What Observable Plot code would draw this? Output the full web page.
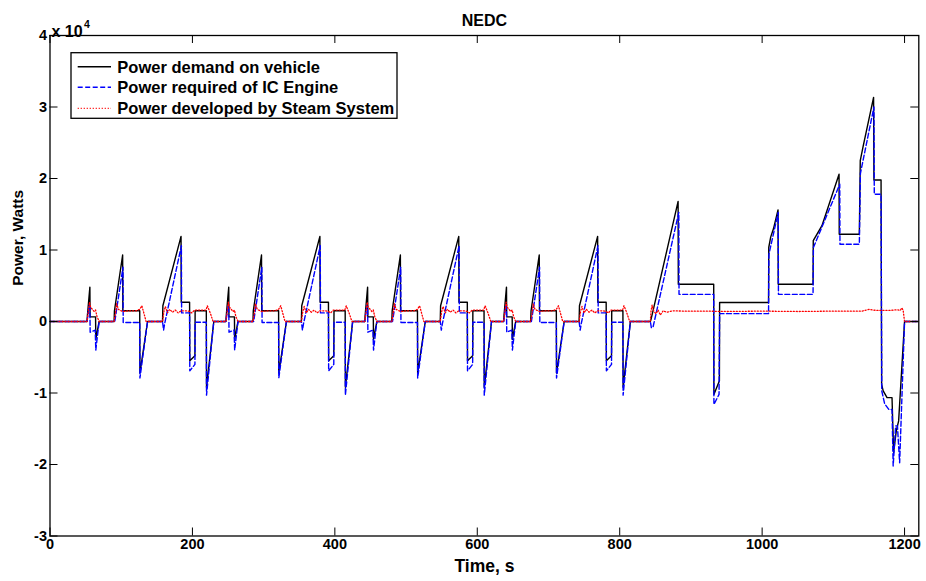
<!DOCTYPE html>
<html><head><meta charset="utf-8">
<script src="https://cdn.jsdelivr.net/npm/d3@7"></script>
<script src="https://cdn.jsdelivr.net/npm/@observablehq/plot@0.6"></script>
<style>
html,body{margin:0;padding:0;background:#fff;}
#wrap{position:relative;width:926px;height:581px;font-family:"Liberation Sans",Arial,Helvetica,sans-serif;}
#legend{position:absolute;left:0;top:0;pointer-events:none;}
</style></head><body><div id="wrap"></div>
<script>
// ---- data (time in s, power in W) ----
const title = "NEDC";
const xLabel = "Time, s";
const yLabel = "Power, Watts";
const xTicks = [0, 200, 400, 600, 800, 1000, 1200];
const yTicks = [-30000, -20000, -10000, 0, 10000, 20000, 30000, 40000];
const seriesNames = ["Power demand on vehicle", "Power required of IC Engine", "Power developed by Steam System"];

const demand = [
[0,0],[41,0],
[52,0],[52.5,800],[56,4800],[56.3,650],[64,650],[64.3,-2500],[69,0],[90,0],[90.5,1500],[102,9300],[102.3,1500],[126,1500],[126.3,-7200],[137,0],[158,0],[158.5,2200],[184,11900],[184.3,2700],[196,2700],[196.3,-5500],[203.5,-4800],[203.8,1500],[219.5,1500],[219.8,-9200],[230,0],
[247,0],[247.5,800],[251,4800],[251.3,650],[259,650],[259.3,-2500],[264,0],[285,0],[285.5,1500],[297,9300],[297.3,1500],[321,1500],[321.3,-7200],[332,0],[353,0],[353.5,2200],[379,11900],[379.3,2700],[391,2700],[391.3,-5500],[398.5,-4800],[398.8,1500],[414.5,1500],[414.8,-9200],[425,0],
[442,0],[442.5,800],[446,4800],[446.3,650],[454,650],[454.3,-2500],[459,0],[480,0],[480.5,1500],[492,9300],[492.3,1500],[516,1500],[516.3,-7200],[527,0],[548,0],[548.5,2200],[574,11900],[574.3,2700],[586,2700],[586.3,-5500],[593.5,-4800],[593.8,1500],[609.5,1500],[609.8,-9200],[620,0],
[637,0],[637.5,800],[641,4800],[641.3,650],[649,650],[649.3,-2500],[654,0],[675,0],[675.5,1500],[687,9300],[687.3,1500],[711,1500],[711.3,-7200],[722,0],[743,0],[743.5,2200],[769,11900],[769.3,2700],[781,2700],[781.3,-5500],[788.5,-4800],[788.8,1500],[804.5,1500],[804.8,-9200],[815,0],
[843,0],[844,300],[848,2000],[882,16800],[882.3,5200],[932,5200],[932.3,-10200],[940,-8300],[940.3,2650],[1009,2650],[1009.3,10350],[1012,11800],[1016,13000],[1022.3,15600],[1022.6,5200],[1071.5,5200],[1071.8,11300],[1084,13400],[1108,20600],[1108.3,12200],[1136.5,12200],[1137.8,22500],[1141.6,24400],[1156.5,31350],[1157,19800],[1167,19800],[1167.8,-8800],[1170,-9700],[1175.4,-10650],[1182.4,-10650],[1184.6,-18300],[1188.4,-15300],[1191.7,-13900],[1200,0],[1220,0]
];

const engine = [
[0,0],[41,0],
[52,0],[55,2200],[56,2000],[56.4,-1500],[63.5,-1200],[64.3,-4000],[69,0],[90,0],[91,0],[102.5,7600],[102.8,-150],[126,-150],[126.3,-7900],[137,0],[158,0],[159.5,-1200],[161,-300],[184.5,10600],[184.8,1200],[196,1200],[196.3,-6900],[203.5,-6000],[203.8,-100],[219.5,-100],[219.8,-10300],[230,0],
[247,0],[250,2200],[251,2000],[251.4,-1500],[258.5,-1200],[259.3,-4000],[264,0],[285,0],[286,0],[297.5,7600],[297.8,-150],[321,-150],[321.3,-7900],[332,0],[353,0],[354.5,-1200],[356,-300],[379.5,10600],[379.8,1200],[391,1200],[391.3,-6900],[398.5,-6000],[398.8,-100],[414.5,-100],[414.8,-10300],[425,0],
[442,0],[445,2200],[446,2000],[446.4,-1500],[453.5,-1200],[454.3,-4000],[459,0],[480,0],[481,0],[492.5,7600],[492.8,-150],[516,-150],[516.3,-7900],[527,0],[548,0],[549.5,-1200],[551,-300],[574.5,10600],[574.8,1200],[586,1200],[586.3,-6900],[593.5,-6000],[593.8,-100],[609.5,-100],[609.8,-10300],[620,0],
[637,0],[640,2200],[641,2000],[641.4,-1500],[648.5,-1200],[649.3,-4000],[654,0],[675,0],[676,0],[687.5,7600],[687.8,-150],[711,-150],[711.3,-7900],[722,0],[743,0],[744.5,-1200],[746,-300],[769.5,10600],[769.8,1200],[781,1200],[781.3,-6900],[788.5,-6000],[788.8,-100],[804.5,-100],[804.8,-10300],[815,0],
[843,0],[844.5,-900],[847,-700],[883,15250],[883.3,3800],[932,3800],[932.3,-11600],[939.5,-10200],[940.3,1100],[1009,1100],[1009.5,9400],[1022.6,15250],[1022.9,3800],[1071.5,3800],[1072,10350],[1109,19200],[1109.3,10800],[1136.5,10800],[1138,20700],[1157,30000],[1157.5,17800],[1167,17800],[1168,-9700],[1172,-11500],[1178,-12300],[1182.4,-12300],[1184,-20200],[1187.5,-14600],[1190,-14600],[1193.1,-19750],[1200,0],[1220,0]
];

const steam = [
[0,0],[41,0],
[52,0],[54,1500],[55.5,2700],[57,2000],[62,1400],[64,1600],[66,700],[69,0],[90,0],[92,1200],[93.5,2500],[96,1700],[102,1400],[111,1500],[121,1500],[126,1700],[129,2200],[135,0],[158,0],[160,1400],[162,2100],[165,1200],[168,1700],[172,1300],[176,1600],[180,1200],[184,1500],[191,1500],[196,1400],[199,1200],[203,1600],[211,1600],[219,1600],[221,2200],[225,1200],[229,0],
[247,0],[249,1500],[250.5,2700],[252,2000],[257,1400],[259,1600],[261,700],[264,0],[285,0],[287,1200],[288.5,2500],[291,1700],[297,1400],[306,1500],[316,1500],[321,1700],[324,2200],[330,0],[353,0],[355,1400],[357,2100],[360,1200],[363,1700],[367,1300],[371,1600],[375,1200],[379,1500],[386,1500],[391,1400],[394,1200],[398,1600],[406,1600],[414,1600],[416,2200],[420,1200],[424,0],
[442,0],[444,1500],[445.5,2700],[447,2000],[452,1400],[454,1600],[456,700],[459,0],[480,0],[482,1200],[483.5,2500],[486,1700],[492,1400],[501,1500],[511,1500],[516,1700],[519,2200],[525,0],[548,0],[550,1400],[552,2100],[555,1200],[558,1700],[562,1300],[566,1600],[570,1200],[574,1500],[581,1500],[586,1400],[589,1200],[593,1600],[601,1600],[609,1600],[611,2200],[615,1200],[619,0],
[637,0],[639,1500],[640.5,2700],[642,2000],[647,1400],[649,1600],[651,700],[654,0],[675,0],[677,1200],[678.5,2500],[681,1700],[687,1400],[696,1500],[706,1500],[711,1700],[714,2200],[720,0],[743,0],[745,1400],[747,2100],[750,1200],[753,1700],[757,1300],[761,1600],[765,1200],[769,1500],[776,1500],[781,1400],[784,1200],[788,1600],[796,1600],[804,1600],[806,2200],[810,1200],[814,0],
[843,0],[844,1500],[845.5,2300],[848,1400],[851,1100],[854,1600],[857,900],[861,1500],[866,1300],[875,1500],[890,1450],[920,1450],[950,1400],[1000,1450],[1050,1400],[1100,1450],[1140,1450],[1150,1700],[1160,1550],[1180,1550],[1190,1650],[1194,1550],[1196,1900],[1198,1600],[1200,0],[1220,0]
];

// ---- layout ----
const W = 926, H = 581, mL = 49.5, mR = 7.7, mT = 35, mB = 45.5;
const fw = W - mL - mR, fh = H - mT - mB;
const font = "Liberation Sans, Arial, Helvetica, sans-serif";
const colors = ["#000000", "#0000ff", "#ff0000"];
const dashes = [null, "5,2.5", "1.1,1.9"];
const widths = [1.4, 1.4, 1.3];

const chart = Plot.plot({
  width: W, height: H,
  marginLeft: mL, marginRight: mR, marginTop: mT, marginBottom: mB,
  style: {fontFamily: font, fontWeight: "bold", background: "#fff", color: "#000"},
  x: {domain: [0, 1220], axis: null},
  y: {domain: [-30000, 40000], axis: null},
  marks: [
    Plot.line(demand, {x: d => d[0], y: d => d[1], stroke: colors[0], strokeWidth: widths[0], clip: true}),
    Plot.line(engine, {x: d => d[0], y: d => d[1], stroke: colors[1], strokeWidth: widths[1], strokeDasharray: dashes[1], clip: true}),
    Plot.line(steam, {x: d => d[0], y: d => d[1], stroke: colors[2], strokeWidth: widths[2], strokeDasharray: dashes[2], clip: true}),
    Plot.tickX(xTicks, {x: d => d, insetTop: fh - 8, stroke: "#000"}),
    Plot.tickX(xTicks, {x: d => d, insetBottom: fh - 8, stroke: "#000"}),
    Plot.tickY(yTicks, {y: d => d, insetRight: fw - 8, stroke: "#000"}),
    Plot.tickY(yTicks, {y: d => d, insetLeft: fw - 8, stroke: "#000"}),
    Plot.frame({stroke: "#000", strokeWidth: 1.3}),
    Plot.text(xTicks, {x: d => d, text: d => String(d), frameAnchor: "bottom", dy: 13, fontSize: 14.5, fontWeight: "bold"}),
    Plot.text(yTicks, {y: d => d, text: d => String(d / 1e4), frameAnchor: "left", textAnchor: "end", dx: -3, fontSize: 14.5, fontWeight: "bold"}),
    Plot.text([xLabel], {text: d => d, frameAnchor: "bottom", dy: 35.5, fontSize: 17.5, fontWeight: "bold"}),
    Plot.text([yLabel], {text: d => d, frameAnchor: "left", rotate: -90, dx: -32, fontSize: 15.5, fontWeight: "bold"}),
    Plot.text([title], {text: d => d, frameAnchor: "top", dy: -21, fontSize: 16, fontWeight: "bold"}),
    Plot.text(["x 10"], {text: d => d, frameAnchor: "top-left", textAnchor: "start", dx: 1.5, dy: -10, fontSize: 16, fontWeight: "bold"}),
    Plot.text(["4"], {text: d => d, frameAnchor: "top-left", textAnchor: "start", dx: 34, dy: -14.5, fontSize: 10.5, fontWeight: "bold"})
  ]
});
const wrap = document.getElementById("wrap");
wrap.appendChild(chart);

// ---- legend (HTML/SVG overlay) ----
const lg = {x: 71, y: 52.7, w: 326, h: 65.6, rows: [66.7, 87.3, 108.3]};
const ns = "http://www.w3.org/2000/svg";
const svg = document.createElementNS(ns, "svg");
svg.setAttribute("id", "legend");
svg.setAttribute("width", W);
svg.setAttribute("height", H);
const rect = document.createElementNS(ns, "rect");
rect.setAttribute("x", lg.x); rect.setAttribute("y", lg.y);
rect.setAttribute("width", lg.w); rect.setAttribute("height", lg.h);
rect.setAttribute("fill", "#fff"); rect.setAttribute("stroke", "#000"); rect.setAttribute("stroke-width", "1.3");
svg.appendChild(rect);
seriesNames.forEach((name, i) => {
  const cy = lg.rows[i];
  const ln = document.createElementNS(ns, "line");
  ln.setAttribute("x1", 77.7); ln.setAttribute("x2", 111);
  ln.setAttribute("y1", cy); ln.setAttribute("y2", cy);
  ln.setAttribute("stroke", colors[i]); ln.setAttribute("stroke-width", widths[i]);
  if (dashes[i]) ln.setAttribute("stroke-dasharray", dashes[i]);
  svg.appendChild(ln);
  const tx = document.createElementNS(ns, "text");
  tx.setAttribute("x", 117.3); tx.setAttribute("y", cy + 5.8);
  tx.setAttribute("font-family", font); tx.setAttribute("font-weight", "bold");
  tx.setAttribute("font-size", "16.5"); tx.setAttribute("fill", "#000");
  tx.textContent = name;
  svg.appendChild(tx);
});
wrap.appendChild(svg);
</script>
</body></html>
